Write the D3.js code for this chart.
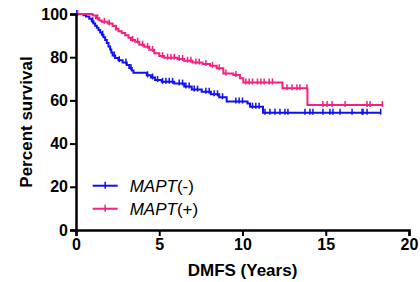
<!DOCTYPE html>
<html>
<head>
<meta charset="utf-8">
<script src="https://cdn.jsdelivr.net/npm/d3@7"></script>
<style>
  body { margin: 0; background: #fff; }
  svg { display: block; font-family: Arial, "Liberation Sans", sans-serif; }
</style>
</head>
<body>
<div id="chart"></div>
<script>
// Kaplan-Meier steps: [time in years, percent survival after the step]
const negSteps = [
    [0, 100], [0.45, 99.4], [0.6, 98.8], [0.8, 97.8], [0.95, 96.6], [1.05, 95.6],
    [1.15, 94.6], [1.25, 93.6], [1.35, 92.6], [1.45, 91.4], [1.55, 90.4], [1.65, 89.2],
    [1.75, 88.0], [1.85, 86.6], [1.95, 85.0], [2.05, 83.6], [2.12, 82.2], [2.2, 80.8],
    [2.35, 79.6], [2.55, 78.6], [2.8, 77.6], [3.05, 76.4], [3.2, 75.0], [3.35, 73.8],
    [3.45, 72.8], [4.25, 71.6], [4.5, 70.6], [4.75, 69.4], [5.15, 68.6], [5.9, 67.8],
    [6.5, 66.4], [6.95, 65.0], [7.55, 64.0], [8.1, 62.8], [8.6, 61.5], [9.05, 59.5],
    [10.3, 58.6], [10.45, 57.1], [11.23, 54.3]
];
const negEnd = 18.3;
const negCensor = [0.05, 1.0, 1.6, 2.3, 2.6, 3.0, 3.3, 4.3, 4.6, 4.9, 5.2, 5.4, 5.6, 5.8,
    6.2, 6.4, 6.6, 6.8, 7.1, 7.3, 7.8, 8.0, 8.3, 8.5, 8.8, 9.6, 9.8, 10.0, 10.6, 10.8, 11.0,
    11.35, 11.65, 11.95, 12.25, 12.55, 12.73, 13.75, 14.05, 14.23, 14.83, 15.25, 15.43,
    15.86, 16.58, 17.18, 17.24, 17.48, 18.3];

const posSteps = [
    [0, 100], [1.0, 99.3], [1.2, 98.0], [1.4, 97.0], [1.55, 96.4], [1.9, 95.6],
    [2.2, 94.4], [2.4, 93.2], [2.55, 92.0], [2.75, 91.2], [2.95, 90.2], [3.15, 89.0],
    [3.3, 88.0], [3.55, 87.2], [3.8, 85.8], [4.1, 84.8], [4.4, 83.4], [4.7, 81.8],
    [5.0, 80.5], [5.3, 79.8], [6.1, 79.2], [6.5, 78.4], [7.0, 77.6], [7.6, 76.8],
    [8.05, 76.0], [8.45, 74.9], [8.85, 72.5], [9.45, 71.8], [9.85, 70.2], [10.05, 68.3],
    [12.4, 65.6], [13.9, 57.9]
];
const posEnd = 18.4;
const posCensor = [0.1, 1.3, 1.7, 2.0, 2.4, 3.4, 3.7, 4.0, 4.3, 4.6, 5.2, 5.5, 5.7, 5.9,
    6.2, 6.4, 6.7, 6.9, 7.2, 7.4, 7.8, 8.2, 8.6, 9.0, 9.6, 10.2, 10.4, 10.6, 10.9, 11.1,
    11.3, 11.6, 11.8, 12.67, 12.97, 13.27, 13.45, 13.87, 14.83, 15.08, 15.38, 16.16,
    17.48, 17.66, 18.4];

const xTicks = [0, 5, 10, 15, 20];
const yTicks = [0, 20, 40, 60, 80, 100];

const series = [
    { name: "MAPT", sign: "(-)", steps: negSteps, end: negEnd, censor: negCensor, color: "#1010f0" },
    { name: "MAPT", sign: "(+)", steps: posSteps, end: posEnd, censor: posCensor, color: "#f5207f" }
];

const W = 420, H = 282;
const margin = { top: 14, right: 11, bottom: 52, left: 76 };
const width = W - margin.left - margin.right;
const height = H - margin.top - margin.bottom;

const svg = d3.select("#chart").append("svg")
    .attr("width", W)
    .attr("height", H);

const chart = svg.append("g")
    .attr("transform", `translate(${margin.left}, ${margin.top})`);

const xScale = d3.scaleLinear().domain([0, 20]).range([0, width]);
const yScale = d3.scaleLinear().domain([0, 100]).range([height, 0]);

// survival level at time t
function levelAt(steps, t) {
    let v = steps[0][1];
    for (const s of steps) if (s[0] <= t) v = s[1];
    return v;
}

const line = d3.line()
    .x(d => xScale(d[0]))
    .y(d => yScale(d[1]))
    .curve(d3.curveStepAfter);

series.forEach(s => {
    const pts = s.steps.concat([[s.end, s.steps[s.steps.length - 1][1]]]);
    chart.append("path")
        .datum(pts)
        .attr("d", line)
        .attr("fill", "none")
        .attr("stroke", s.color)
        .attr("stroke-width", 2);

    chart.selectAll(null)
        .data(s.censor)
        .enter()
        .append("line")
        .attr("x1", d => xScale(d))
        .attr("x2", d => xScale(d))
        .attr("y1", d => yScale(levelAt(s.steps, d)) - 4)
        .attr("y2", d => yScale(levelAt(s.steps, d)) + 2)
        .attr("stroke", s.color)
        .attr("stroke-width", 1.5);
});

// Axes
const xAxis = chart.append("g")
    .attr("transform", `translate(0, ${height})`)
    .call(d3.axisBottom(xScale).tickValues(xTicks).tickSize(6).tickPadding(3));

const yAxis = chart.append("g")
    .call(d3.axisLeft(yScale).tickValues(yTicks).tickSize(6).tickPadding(2));

[xAxis, yAxis].forEach(a => {
    a.select(".domain").attr("stroke", "#000").attr("stroke-width", 2.5);
    a.selectAll(".tick line").attr("stroke", "#000").attr("stroke-width", 2);
    a.selectAll(".tick text")
        .attr("fill", "#000")
        .attr("font-size", "16px")
        .attr("font-weight", "bold")
        .attr("font-family", "Arial, 'Liberation Sans', sans-serif");
});

// Axis titles
chart.append("text")
    .attr("x", width / 2)
    .attr("y", height + 46)
    .attr("text-anchor", "middle")
    .attr("font-size", "17px")
    .attr("font-weight", "bold")
    .text("DMFS (Years)");

chart.append("text")
    .attr("transform", "rotate(-90)")
    .attr("x", -height / 2)
    .attr("y", -44)
    .attr("text-anchor", "middle")
    .attr("font-size", "17px")
    .attr("font-weight", "bold")
    .text("Percent survival");

// Legend
const legend = chart.append("g")
    .attr("transform", `translate(${xScale(1)}, ${yScale(20.5)})`);

series.forEach((s, i) => {
    const g = legend.append("g").attr("transform", `translate(0, ${i * 23})`);
    g.append("line")
        .attr("x1", 0).attr("x2", 25)
        .attr("stroke", s.color).attr("stroke-width", 2);
    g.append("line")
        .attr("x1", 12.5).attr("x2", 12.5)
        .attr("y1", -4).attr("y2", 3)
        .attr("stroke", s.color).attr("stroke-width", 1.5);
    const t = g.append("text")
        .attr("x", 37)
        .attr("y", 6)
        .attr("font-size", "17px");
    t.append("tspan").attr("font-style", "italic").text(s.name);
    t.append("tspan").text(s.sign);
});
</script>
</body>
</html>
